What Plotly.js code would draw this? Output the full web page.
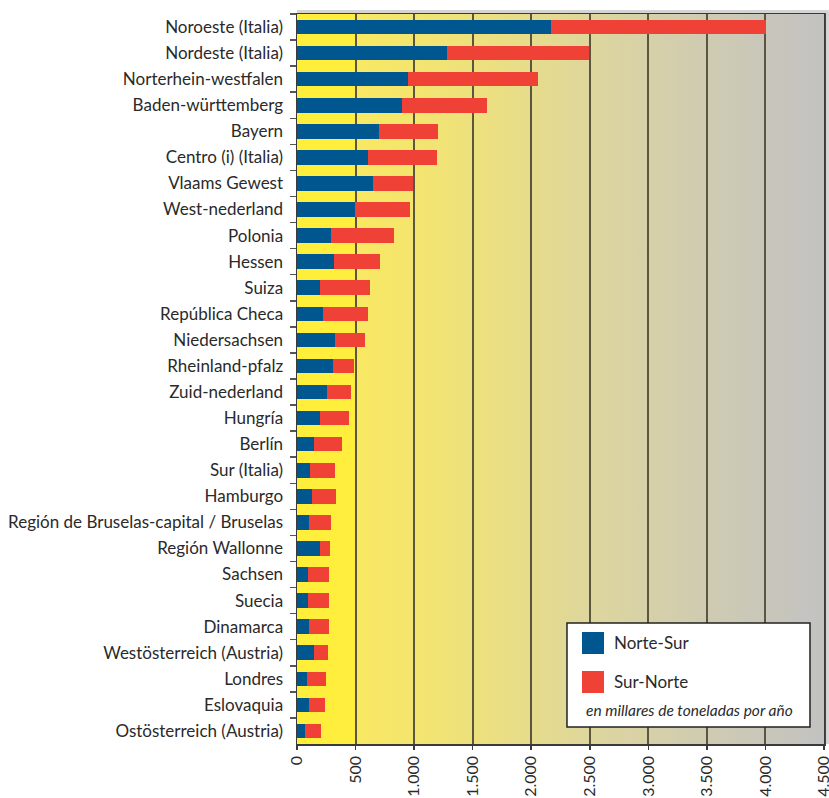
<!DOCTYPE html>
<html>
<head>
<meta charset="utf-8">
<script src="https://cdn.plot.ly/plotly-3.0.1.min.js"></script>
<style>
  html, body { margin: 0; padding: 0; background: #ffffff; }
  #chart {
    width: 829px; height: 798px;
    background-image: linear-gradient(to right, #FFEF3A 0%, #FFEE3E 10.9%, #F9E862 11.2%, #F2E472 25%, #E8DD88 42%, #DCD5A0 58%, #CFCBB2 78%, #C2C2C2 100%);
    background-repeat: no-repeat;
    background-position: 297px 14px;
    background-size: 527px 730px;
  }
</style>
</head>
<body>
<div id="chart"></div>
<script>
const regions = [
  "Noroeste (Italia)", "Nordeste (Italia)", "Norterhein-westfalen", "Baden-württemberg",
  "Bayern", "Centro (i) (Italia)", "Vlaams Gewest", "West-nederland", "Polonia", "Hessen",
  "Suiza", "República Checa", "Niedersachsen", "Rheinland-pfalz", "Zuid-nederland",
  "Hungría", "Berlín", "Sur (Italia)", "Hamburgo", "Región de Bruselas-capital / Bruselas",
  "Región Wallonne", "Sachsen", "Suecia", "Dinamarca", "Westösterreich (Austria)",
  "Londres", "Eslovaquia", "Ostösterreich (Austria)"
];
const norteSur = [2170, 1284, 950, 900, 704, 610, 651, 499, 293, 318,
  196, 222, 324, 307, 256, 196, 145, 111, 128, 102,
  196, 94, 94, 102, 145, 85, 102, 68];
const surNorte = [1834, 1212, 1109, 725, 501, 589, 343, 469, 537, 393,
  427, 384, 257, 180, 205, 248, 239, 213, 205, 188,
  86, 179, 179, 171, 120, 163, 137, 137];
const seriesNames = ["Norte-Sur", "Sur-Norte"];
const unitNote = "en millares de toneladas por año";
const xTicks = [0, 500, 1000, 1500, 2000, 2500, 3000, 3500, 4000, 4500];

const FONT = "Lato, 'Noto Sans', sans-serif";
const BLUE = "#00568F";
const RED = "#EF4136";

const traces = [
  { type: "bar", orientation: "h", name: seriesNames[0], y: regions, x: norteSur,
    marker: { color: BLUE }, width: 0.56, hoverinfo: "x+y" },
  { type: "bar", orientation: "h", name: seriesNames[1], y: regions, x: surNorte,
    marker: { color: RED }, width: 0.56, hoverinfo: "x+y" }
];

const layout = {
  width: 829, height: 798,
  margin: { l: 297, r: 5, t: 14, b: 54 },
  paper_bgcolor: "rgba(0,0,0,0)",
  plot_bgcolor: "rgba(0,0,0,0)",
  barmode: "stack",
  showlegend: false,
  separators: ",.",
  font: { family: FONT, size: 17, color: "#2a2a2a" },
  xaxis: {
    range: [0, 4500], tickvals: xTicks, tickformat: ",d",
    tickangle: -90, showgrid: true, gridcolor: "#5a5640", gridwidth: 2,
    zeroline: false, showline: true, mirror: true, linecolor: "#3a3a3a", linewidth: 1.5,
    ticks: "outside", ticklen: 4, tickcolor: "#3a3a3a", tickwidth: 1.5,
    ticklabeloverflow: "allow", ticklabelstandoff: 0,
    tickfont: { family: FONT, size: 16, color: "#2a2a2a" }, fixedrange: true
  },
  yaxis: {
    autorange: "reversed", showline: true, mirror: true, linecolor: "#3a3a3a", linewidth: 1.5,
    ticks: "outside", tickson: "boundaries", ticklen: 6, tickcolor: "#555555", tickwidth: 1.5,
    showgrid: false, tickfont: { family: FONT, size: 17, color: "#2a2a2a" },
    ticklabelstandoff: 9, fixedrange: true
  },
  shapes: [
    { type: "line", xref: "paper", yref: "paper", x0: 0, x1: 1.008, y0: 1.0035, y1: 1.0035,
      line: { color: "#d4d4d4", width: 3 } },
    { type: "line", xref: "paper", yref: "paper", x0: 1.0065, x1: 1.0065, y0: 0, y1: 1.005,
      line: { color: "#d4d4d4", width: 3 } },
    { type: "rect", xref: "paper", yref: "paper", x0: 0.5123, x1: 0.9734, y0: 0.0233, y1: 0.1658,
      fillcolor: "#ffffff", line: { color: "#222222", width: 1.5 }, layer: "above" },
    { type: "rect", xref: "paper", yref: "paper", x0: 0.5408, x1: 0.5825, y0: 0.1233, y1: 0.1534,
      fillcolor: BLUE, line: { width: 0 }, layer: "above" },
    { type: "rect", xref: "paper", yref: "paper", x0: 0.5408, x1: 0.5825, y0: 0.0699, y1: 0.1000,
      fillcolor: RED, line: { width: 0 }, layer: "above" }
  ],
  annotations: [
    { xref: "paper", yref: "paper", x: 0.5977, y: 0.1384, xanchor: "left", yanchor: "middle",
      text: seriesNames[0], showarrow: false, font: { family: FONT, size: 17, color: "#2a2a2a" } },
    { xref: "paper", yref: "paper", x: 0.5977, y: 0.0850, xanchor: "left", yanchor: "middle",
      text: seriesNames[1], showarrow: false, font: { family: FONT, size: 17, color: "#2a2a2a" } },
    { xref: "paper", yref: "paper", x: 0.5446, y: 0.0466, xanchor: "left", yanchor: "middle",
      text: "<i>" + unitNote + "</i>", showarrow: false, font: { family: FONT, size: 15.5, color: "#2a2a2a" } }
  ]
};

Plotly.newPlot("chart", traces, layout, { displayModeBar: false, staticPlot: true });
</script>
</body>
</html>
